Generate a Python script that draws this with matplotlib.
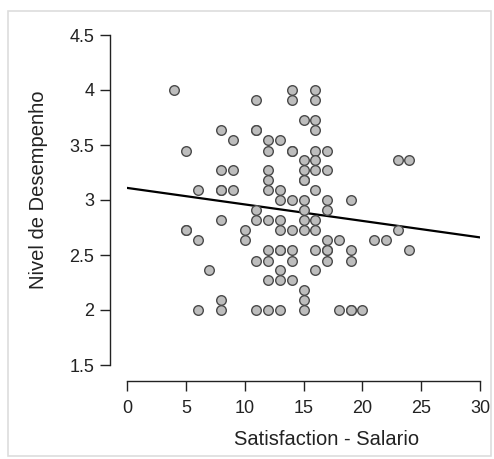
import numpy as np
import matplotlib
matplotlib.use("Agg")
import matplotlib.pyplot as plt
from matplotlib.patches import Rectangle

plt.rcParams['font.family'] = ['Liberation Sans', 'DejaVu Sans']

# Satisfaction - Salario (x) and Nivel de Desempenho (y)
sat_salario = [4, 14, 16,
               11, 14, 16,
               15, 16,
               8, 11, 11, 16,
               9, 12, 13,
               5, 12, 14, 14, 16, 17,
               15, 16, 23, 24,
               8, 9, 12, 15, 16, 17,
               12, 15, 15,
               6, 8, 8, 9, 12, 13, 16,
               13, 14, 15, 17, 19,
               11, 15, 17,
               8, 11, 12, 13, 15, 16,
               5, 5, 10, 13, 14, 15, 16, 23,
               6, 10, 17, 18, 21, 22,
               12, 13, 13, 14, 16, 17, 17, 19, 24,
               11, 12, 14, 17, 19,
               7, 13, 16,
               12, 13, 14,
               15,
               8, 15,
               6, 8, 11, 12, 13, 15, 18, 19, 19, 20]
desempenho = [4.00] * 3 + [3.91] * 3 + [3.73] * 2 + [3.64] * 4 + [3.55] * 3 + \
             [3.45] * 6 + [3.36] * 4 + [3.27] * 6 + [3.18] * 3 + [3.09] * 7 + \
             [3.00] * 5 + [2.91] * 3 + [2.82] * 6 + [2.73] * 8 + [2.64] * 6 + \
             [2.55] * 9 + [2.45] * 5 + [2.36] * 3 + [2.27] * 3 + [2.18] * 1 + \
             [2.09] * 2 + [2.00] * 10

# fitted regression line (value at x = 0 and x = 30)
fit_x = [0, 30]
fit_y = [3.11, 2.66]

x_ticks = [0, 5, 10, 15, 20, 25, 30]
y_ticks = [1.5, 2, 2.5, 3, 3.5, 4, 4.5]
y_ticklabels = ["1.5", "2", "2.5", "3", "3.5", "4", "4.5"]

x = np.array(sat_salario, dtype=float)
y = np.array(desempenho, dtype=float)

fig = plt.figure(figsize=(4.94, 4.59), dpi=100)
fig.patches.append(Rectangle((8 / 494, 3 / 459), 483 / 494, 445 / 459,
                             transform=fig.transFigure, fill=False,
                             edgecolor='#dddddd', linewidth=1.2))

ax = fig.add_axes([127 / 494, 94 / 459, 353 / 494, 330 / 459])
ax.set_xlim(0, 30)
ax.set_ylim(1.5, 4.5)

ax.plot(fit_x, fit_y, color='black', lw=1.6, zorder=2)

ax.scatter(x, y, s=48, facecolor='#bdbdbd', edgecolor='#4a4a4a',
           linewidth=1.0, zorder=3, clip_on=False)

for s in ['top', 'right']:
    ax.spines[s].set_visible(False)
ax.spines['left'].set_position(('outward', 12.5))
ax.spines['bottom'].set_position(('outward', 11.5))
ax.spines['left'].set_bounds(1.5, 4.5)
ax.spines['bottom'].set_bounds(0, 30)
for s in ['left', 'bottom']:
    ax.spines[s].set_linewidth(1.0)
    ax.spines[s].set_color('#222222')

ax.set_xticks(x_ticks)
ax.set_yticks(y_ticks)
ax.set_yticklabels(y_ticklabels)
ax.tick_params(axis='both', direction='out', length=7, width=1.0,
               color='#222222', labelsize=13, labelcolor='#222222', pad=4)
ax.tick_params(axis='x', pad=7)

ax.set_xlabel("Satisfaction - Salario", fontsize=14.5, color='#222222')
ax.set_ylabel("Nivel de Desempenho", fontsize=14.5, color='#222222')
ax.xaxis.set_label_coords(0.564, -0.227)
ax.yaxis.set_label_coords(-0.252, 0.53)
ax.xaxis.label.set_va('center')
ax.yaxis.label.set_va('center')

fig.savefig("out.png", dpi=100)
